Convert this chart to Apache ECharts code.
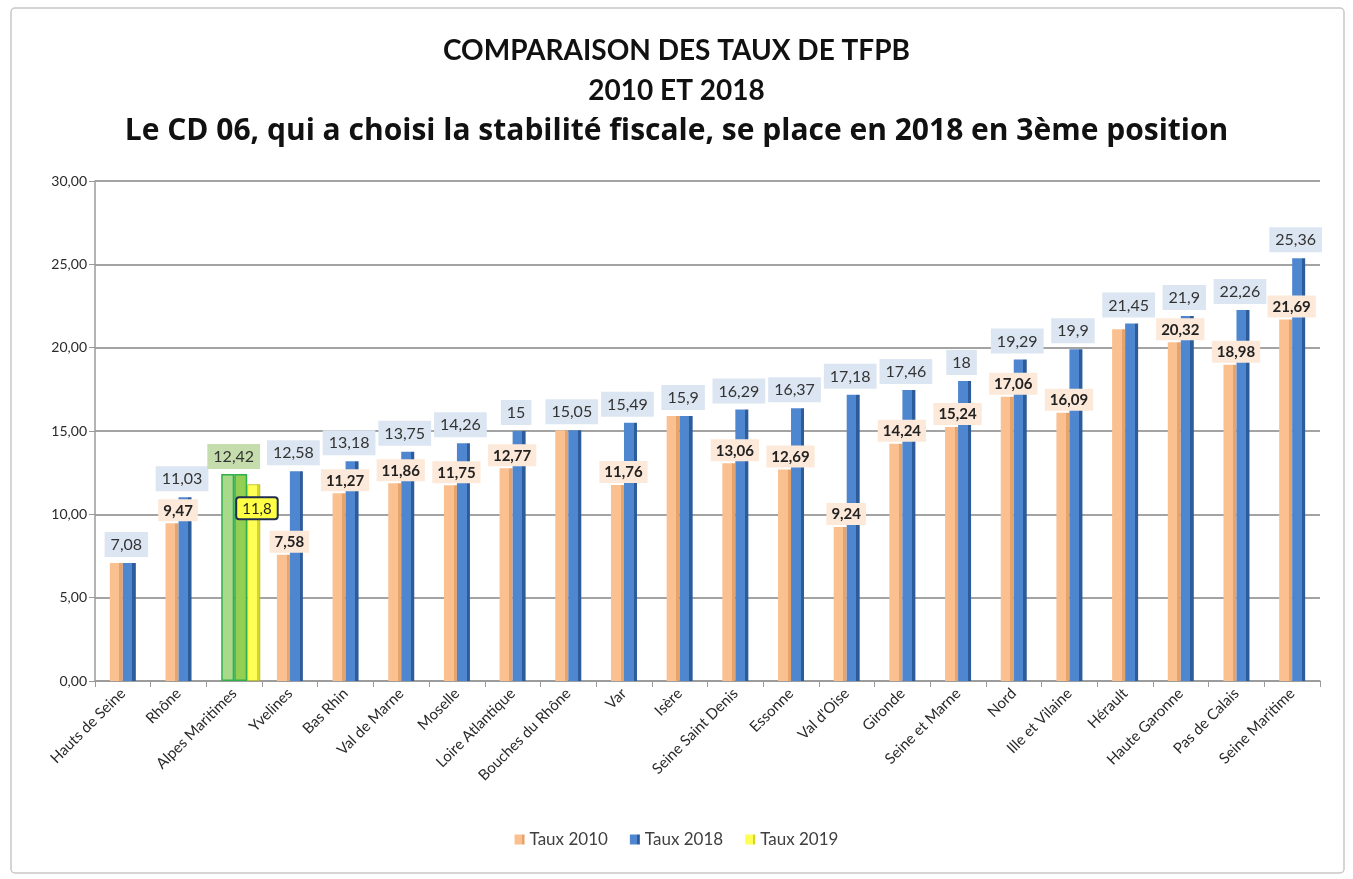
<html>
<head>
    <meta charset="utf-8">
    <script src='https://cdn.jsdelivr.net/npm/echarts@6/dist/echarts.min.js'></script>
    <style>
        html, body, #main {
            width: 100%;
            height: 100%;
            margin: 0;
            background: #fff;
        }
    </style>
</head>
<body>
<div id='main'></div>
<script>
    // departements, classes par taux 2018
    var departements = ['Hauts de Seine', 'Rhône', 'Alpes Maritimes', 'Yvelines', 'Bas Rhin', 'Val de Marne',
        'Moselle', 'Loire Atlantique', 'Bouches du Rhône', 'Var', 'Isère', 'Seine Saint Denis', 'Essonne',
        "Val d'Oise", 'Gironde', 'Seine et Marne', 'Nord', 'Ille et Vilaine', 'Hérault', 'Haute Garonne',
        'Pas de Calais', 'Seine Maritime'];
    var taux2010 = [7.08, 9.47, 12.42, 7.58, 11.27, 11.86, 11.75, 12.77, 15.05, 11.76, 15.9, 13.06, 12.69,
        9.24, 14.24, 15.24, 17.06, 16.09, 21.1, 20.32, 18.98, 21.69];
    var taux2018 = [7.08, 11.03, 12.42, 12.58, 13.18, 13.75, 14.26, 15, 15.05, 15.49, 15.9, 16.29, 16.37,
        17.18, 17.46, 18, 19.29, 19.9, 21.45, 21.9, 22.26, 25.36];
    var taux2019 = [null, null, 11.8, null, null, null, null, null, null, null, null, null, null,
        null, null, null, null, null, null, null, null, null];
    var yTicks = [0, 5, 10, 15, 20, 25, 30];
    var cd06 = 'Alpes Maritimes';

    var BW = 13;
    var FONT = 'Lato, "Open Sans", sans-serif';

    function virgule(v) {
        return String(v).replace('.', ',');
    }

    // faux relief : face avant + cote sombre
    function relief(face, side) {
        return new echarts.graphic.LinearGradient(0, 0, 1, 0, [
            {offset: 0, color: face}, {offset: 0.74, color: face},
            {offset: 0.74, color: side}, {offset: 1, color: side}
        ]);
    }

    var chart = echarts.init(document.getElementById('main'));

    var data2010 = taux2010.map(function (v, i) {
        var item = {value: v, label: {show: Math.abs(v - taux2018[i]) >= 0.5}};
        if (departements[i] === cd06) {
            item.itemStyle = {color: '#a9d98a', borderColor: '#2fb04a', borderWidth: 1.5};
        }
        return item;
    });
    var data2018 = taux2018.map(function (v, i) {
        var item = {value: v};
        if (departements[i] === cd06) {
            item.itemStyle = {color: '#93cf52', borderColor: '#2fb04a', borderWidth: 1.5};
            item.label = {backgroundColor: '#c5dcad', offset: [-7, 0]};
        }
        return item;
    });

    var option = {
        backgroundColor: '#fff',
        title: {
            text: '{a|COMPARAISON DES TAUX DE TFPB}\n{a|2010 ET 2018}\n{b|Le CD 06, qui a choisi la stabilité fiscale, se place en 2018 en 3ème position}',
            left: 'center',
            top: 26,
            textStyle: {
                rich: {
                    a: {
                        fontFamily: FONT,
                        fontWeight: 'bold',
                        fontSize: 28,
                        lineHeight: 40,
                        color: '#111'
                    },
                    b: {
                        fontFamily: '"Open Sans", sans-serif',
                        fontWeight: 'bold',
                        fontSize: 30,
                        lineHeight: 40,
                        color: '#111'
                    }
                }
            }
        },
        graphic: [{
            type: 'rect',
            shape: {x: 11, y: 8, width: 1333, height: 865, r: 4},
            style: {fill: 'none', stroke: '#c8c8c8', lineWidth: 1.5},
            silent: true
        }],
        legend: {
            data: ['Taux 2010', 'Taux 2018', 'Taux 2019'],
            bottom: 26,
            left: 'center',
            itemWidth: 10,
            itemHeight: 10,
            itemGap: 22,
            icon: 'rect',
            itemStyle: {borderWidth: 0},
            textStyle: {fontFamily: FONT, fontSize: 17, color: '#404040'}
        },
        grid: {left: 95, right: 33, top: 181, bottom: 198},
        xAxis: [{
            type: 'category',
            data: departements,
            axisLine: {lineStyle: {color: '#9a9a9a', width: 1.5}},
            axisTick: {show: true, length: 6, lineStyle: {color: '#9a9a9a'}},
            axisLabel: {
                interval: 0,
                rotate: 45,
                fontFamily: FONT,
                fontSize: 15,
                color: '#2a2a2a',
                margin: 10
            }
        }, {
            type: 'category',
            data: departements,
            show: false
        }],
        yAxis: {
            type: 'value',
            min: 0,
            max: 30,
            interval: 5,
            axisLine: {show: true, lineStyle: {color: '#9a9a9a', width: 1.5}},
            axisTick: {show: true, length: 6, lineStyle: {color: '#9a9a9a'}},
            axisLabel: {
                fontFamily: FONT,
                fontSize: 14,
                color: '#2a2a2a',
                formatter: function (v) {
                    return yTicks.indexOf(v) >= 0 ? v.toFixed(2).replace('.', ',') : '';
                }
            },
            splitLine: {lineStyle: {color: '#a3a3a3', width: 1.8}}
        },
        series: [{
            name: 'Taux 2010',
            type: 'bar',
            xAxisIndex: 0,
            barWidth: BW,
            barGap: '0%',
            color: '#fac090',
            itemStyle: {color: relief('#fac090', '#e6a46d')},
            label: {
                show: true,
                position: 'top',
                offset: [6, 3],
                formatter: function (p) { return virgule(p.value); },
                fontFamily: FONT,
                fontSize: 15,
                fontWeight: 'bold',
                color: '#222',
                backgroundColor: '#fde9d9',
                padding: [4, 5, 3, 5]
            },
            data: data2010
        }, {
            name: 'Taux 2018',
            type: 'bar',
            xAxisIndex: 0,
            barWidth: BW,
            barGap: '0%',
            color: '#4f86d0',
            itemStyle: {color: relief('#4f86d0', '#2d5c9a')},
            label: {
                show: true,
                position: 'top',
                offset: [-3, -1],
                formatter: function (p) { return virgule(p.value); },
                fontFamily: FONT,
                fontSize: 16,
                color: '#333',
                backgroundColor: '#dce6f2',
                padding: [5, 6, 4, 6]
            },
            data: data2018
        }, {
            name: '_pad',
            type: 'bar',
            xAxisIndex: 1,
            barWidth: BW * 3,
            barGap: '0%',
            silent: true,
            data: taux2019.map(function () { return null; })
        }, {
            name: 'Taux 2019',
            type: 'bar',
            xAxisIndex: 1,
            barWidth: BW,
            barGap: '0%',
            color: '#ffff55',
            itemStyle: {color: relief('#ffff55', '#d6d62a'), borderColor: '#b8b820', borderWidth: 0.8},
            label: {
                show: true,
                position: [-10, 14],
                align: 'left',
                verticalAlign: 'top',
                formatter: function (p) { return virgule(p.value); },
                fontFamily: FONT,
                fontSize: 15,
                color: '#222',
                backgroundColor: '#ffff44',
                borderColor: '#1f2d50',
                borderWidth: 2,
                borderRadius: 2,
                padding: [3, 5, 2, 5]
            },
            data: taux2019
        }]
    };

    chart.setOption(option);
</script>
</body>
</html>
